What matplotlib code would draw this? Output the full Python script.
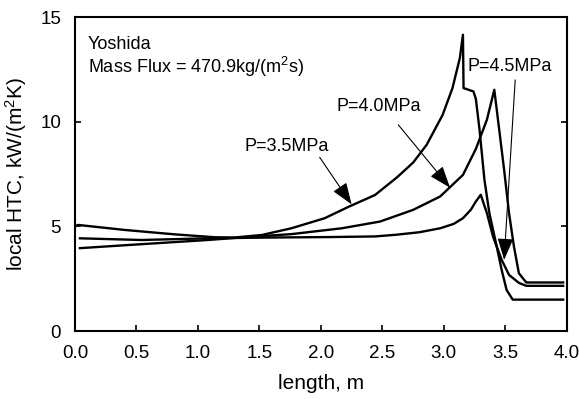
import matplotlib
matplotlib.use("Agg")
import matplotlib.pyplot as plt

# -------------------------------------------------
# DATA
# -------------------------------------------------

x_35 = [0.0, 0.025, 0.405, 0.81, 1.14, 1.30, 1.52, 1.76, 2.03, 2.23,
        2.44, 2.62, 2.75, 2.86, 2.99, 3.07, 3.13, 3.155, 3.16, 3.24,
        3.26, 3.29, 3.33, 3.37, 3.43, 3.47, 3.51, 3.56, 3.97]
htc_35 = [5.0, 5.07, 4.83, 4.62, 4.48, 4.47, 4.59, 4.91, 5.39, 5.95,
          6.50, 7.35, 8.05, 8.90, 10.33, 11.61, 13.05, 14.16, 11.61, 11.45,
          11.1, 9.62, 7.22, 5.63, 4.03, 2.92, 1.96, 1.50, 1.50]

x_40 = [0.04, 0.54, 1.08, 1.35, 1.76, 1.95, 2.17, 2.48, 2.75, 2.97,
        3.155, 3.26, 3.35, 3.41, 3.45, 3.49, 3.53, 3.57, 3.61, 3.67, 3.97]
htc_40 = [3.96, 4.15, 4.35, 4.47, 4.63, 4.76, 4.91, 5.23, 5.79, 6.43,
          7.46, 8.70, 10.1, 11.53, 9.62, 7.70, 5.63, 4.03, 2.76, 2.32, 2.32]

x_45 = [0.04, 0.54, 1.08, 1.62, 2.07, 2.44, 2.61, 2.80, 2.97, 3.08,
        3.155, 3.22, 3.26, 3.30, 3.35, 3.40, 3.47, 3.53, 3.61, 3.67, 3.97]
htc_45 = [4.43, 4.35, 4.43, 4.47, 4.49, 4.52, 4.60, 4.72, 4.91, 5.12,
          5.39, 5.80, 6.19, 6.51, 5.63, 4.51, 3.40, 2.68, 2.30, 2.16, 2.16]

labels = ["P=3.5MPa", "P=4.0MPa", "P=4.5MPa"]
arrow_tips = [(2.25, 6.05), (3.05, 6.85), (3.49, 3.40)]
label_spots = [(1.38, 8.8), (2.13, 10.73), (3.19, 12.65)]
tail_spots = [(1.99, 8.3), (2.63, 9.85), (3.58, 12.0)]

# -------------------------------------------------
# PLOT
# -------------------------------------------------

plt.rcParams["font.family"] = ["Liberation Sans", "DejaVu Sans"]
plt.rcParams["mathtext.fontset"] = "custom"
plt.rcParams["mathtext.rm"] = "Liberation Sans"
plt.rcParams["mathtext.it"] = "Liberation Sans:italic"

fig = plt.figure(figsize=(5.79, 3.99), dpi=100)
ax = fig.add_axes([0.1295, 0.1704, 0.8495, 0.7866])

for xs, ys in [(x_35, htc_35), (x_40, htc_40), (x_45, htc_45)]:
    ax.plot(xs, ys, color="black", lw=1.7, solid_joinstyle="round")

for text, tip, spot, tail in zip(labels, arrow_tips, label_spots, tail_spots):
    ax.text(spot[0], spot[1], text, fontsize=13, ha="left", va="center")
    ax.annotate(
        "",
        xy=tip,
        xytext=tail,
        arrowprops=dict(
            arrowstyle="-|>,head_length=0.9,head_width=0.33",
            color="black",
            lw=0.8,
            shrinkA=0,
            shrinkB=0,
            mutation_scale=15,
        ),
    )

ax.text(0.105, 13.68, "Yoshida", fontsize=13, va="center")
ax.text(0.105, 12.63, r"Mass Flux = 470.9kg/(m$^2$s)", fontsize=13,
        va="center")

ax.set_xlim(0, 4)
ax.set_ylim(0, 15)
ax.set_xticks([0, 0.5, 1.0, 1.5, 2.0, 2.5, 3.0, 3.5, 4.0])
ax.set_xticklabels(["0.0", "0.5", "1.0", "1.5", "2.0", "2.5", "3.0",
                    "3.5", "4.0"])
ax.set_yticks([0, 5, 10, 15])

ax.tick_params(direction="in", length=4, width=1.2, labelsize=13.5,
               right=True)
ax.tick_params(axis="x", pad=10)
ax.tick_params(axis="y", pad=10)
for spine in ax.spines.values():
    spine.set_linewidth(1.5)

ax.set_xlabel("length, m", fontsize=15, labelpad=9)
ax.set_ylabel(r"local HTC, kW/(m$^2$K)", fontsize=15, labelpad=8)

fig.savefig("out.png", dpi=100)
